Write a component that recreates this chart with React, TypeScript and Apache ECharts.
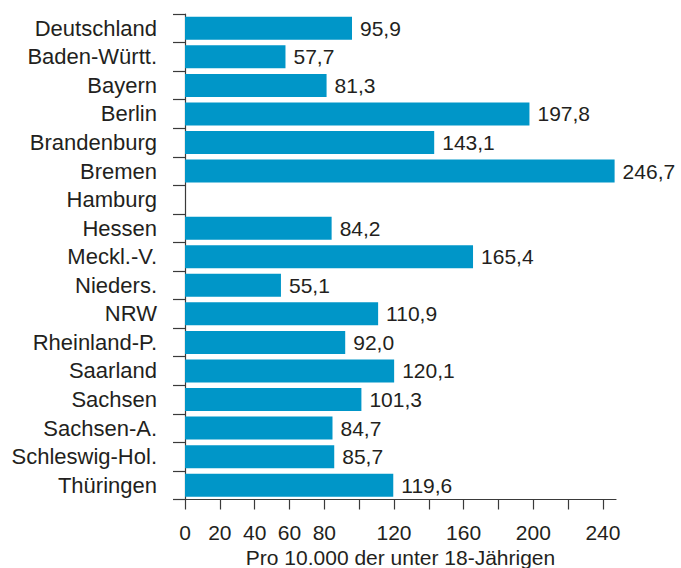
import React, { useEffect, useRef } from "react";
import * as echarts from "echarts";

const categories = [
  "Deutschland",
  "Baden-Württ.",
  "Bayern",
  "Berlin",
  "Brandenburg",
  "Bremen",
  "Hamburg",
  "Hessen",
  "Meckl.-V.",
  "Nieders.",
  "NRW",
  "Rheinland-P.",
  "Saarland",
  "Sachsen",
  "Sachsen-A.",
  "Schleswig-Hol.",
  "Thüringen",
];

const values: (number | null)[] = [
  95.9, 57.7, 81.3, 197.8, 143.1, 246.7, null, 84.2, 165.4, 55.1, 110.9, 92.0,
  120.1, 101.3, 84.7, 85.7, 119.6,
];

const tickValues = [0, 20, 40, 60, 80, 100, 120, 140, 160, 180, 200, 220, 240];
const labelValues = [0, 20, 40, 60, 80, 120, 160, 200, 240];
const axisTitle = "Pro 10.000 der unter 18-Jährigen";

const FONT = "'Liberation Sans', Arial, Helvetica, sans-serif";
const TEXT = "#231f20";
const AXIS = "#3a3a3a";
const BAR = "#0096c8";

export default function App() {
  const ref = useRef<HTMLDivElement>(null);

  useEffect(() => {
    if (!ref.current) return;
    const chart = echarts.init(ref.current, undefined, { renderer: "svg" });
    chart.setOption({
      animation: false,
      backgroundColor: "#ffffff",
      grid: {
        left: 185,
        top: 14,
        right: 65,
        bottom: 68.5,
        containLabel: false,
        outerBoundsMode: "none",
      },
      xAxis: {
        type: "value",
        min: 0,
        max: 247.5,
        splitLine: { show: false },
        axisLine: { show: true, lineStyle: { color: AXIS, width: 1.2 } },
        axisTick: {
          show: true,
          length: 10,
          customValues: tickValues,
          lineStyle: { color: AXIS, width: 1.2 },
        },
        axisLabel: {
          customValues: labelValues,
          margin: 22,
          color: TEXT,
          fontSize: 21,
          fontFamily: FONT,
        },
        name: axisTitle,
        nameLocation: "middle",
        nameGap: 47,
        nameMoveOverlap: false,
        nameTextStyle: { color: TEXT, fontSize: 21, fontFamily: FONT },
      },
      yAxis: {
        type: "category",
        data: categories,
        inverse: true,
        axisLine: { show: true, lineStyle: { color: AXIS, width: 1.2 } },
        axisTick: {
          show: true,
          length: 12,
          interval: 0,
          alignWithLabel: false,
          lineStyle: { color: AXIS, width: 1.2 },
        },
        axisLabel: {
          interval: 0,
          hideOverlap: false,
          margin: 28,
          color: TEXT,
          fontSize: 22,
          fontFamily: FONT,
        },
        splitLine: { show: false },
      },
      series: [
        {
          type: "bar",
          data: values,
          barWidth: 23,
          clip: false,
          itemStyle: { color: BAR },
          label: {
            show: true,
            position: "right",
            distance: 8,
            color: TEXT,
            fontSize: 21,
            fontFamily: FONT,
            formatter: (p: any) =>
              p.value == null ? "" : Number(p.value).toFixed(1).replace(".", ","),
          },
        },
      ],
    });
    return () => chart.dispose();
  }, []);

  return (
    <div
      ref={ref}
      style={{ position: "fixed", left: 0, top: 0, width: 681, height: 568 }}
    />
  );
}
